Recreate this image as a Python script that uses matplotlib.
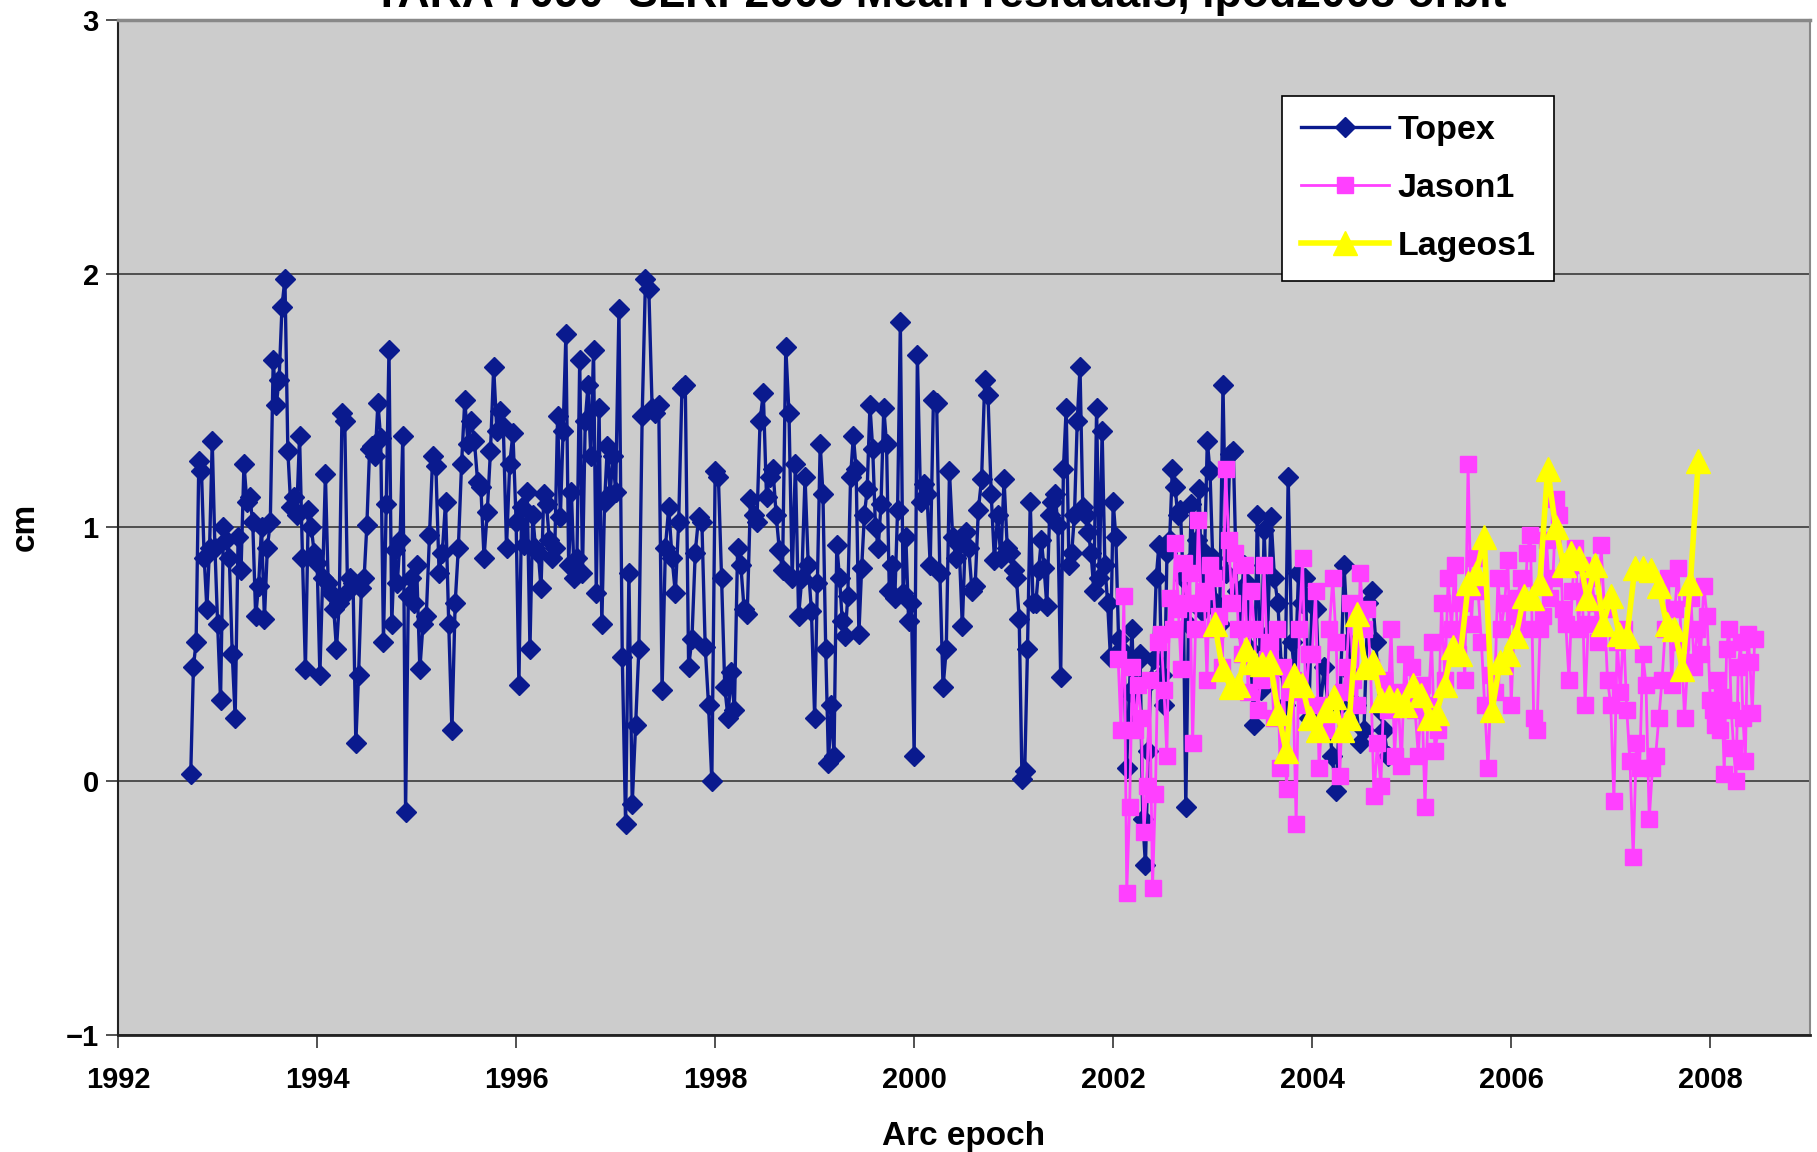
import numpy as np
import matplotlib
matplotlib.use('Agg')
from matplotlib import pyplot as plt

# mean residuals (cm)
topex_1992 = [0.03, 0.45, 0.55, 1.26, 1.22, 0.88, 0.68, 0.92, 1.34, 0.92]
topex_1993 = [0.62, 0.32, 1.0, 0.95, 0.88, 0.50, 0.25, 0.96, 0.83, 1.25, 1.10, 1.12,
              1.02, 0.65, 0.77, 1.0, 0.64, 0.92, 1.02, 1.66, 1.48, 1.58, 1.87, 1.98,
              1.30, 1.08, 1.12, 1.05, 1.36, 0.88, 0.44, 1.07, 1.0, 0.9]
topex_1994 = [0.86, 0.42, 0.80, 1.21, 0.78, 0.74, 0.68, 0.52, 0.70, 1.45, 1.42, 0.75,
              0.80, 0.78, 0.15, 0.42, 0.76, 0.80, 1.01, 1.31, 1.32, 1.28, 1.49, 1.35,
              0.55, 1.09, 1.70, 0.62, 0.91, 0.78, 0.95, 1.36, -0.12, 0.73, 0.80, 0.70]
topex_1995 = [0.85, 0.44, 0.62, 0.65, 0.97, 1.28, 1.24, 0.82, 0.90, 1.10, 0.62, 0.20,
              0.70, 0.92, 1.25, 1.50, 1.33, 1.42, 1.34, 1.18, 1.16, 0.88, 1.06, 1.30,
              1.63, 1.38, 1.46, 1.40, 0.92, 1.25, 1.37]
topex_1996 = [1.02, 0.38, 1.08, 0.93, 1.14, 0.52, 1.05, 0.92, 0.90, 0.76, 1.13, 1.09,
              0.95, 0.88, 0.92, 1.44, 1.04, 1.38, 1.76, 0.85, 1.14, 0.80, 0.88, 1.66,
              0.82, 1.42, 1.56, 1.28, 1.70, 0.74, 1.47, 0.62, 1.10, 1.32, 1.13, 1.28]
topex_1997 = [1.14, 1.86, 0.49, -0.17, 0.82, -0.09, 0.22, 0.52, 1.44, 1.98, 1.94, 1.47,
              1.45, 1.48, 0.36, 0.92, 1.08, 0.88, 0.74, 1.02, 1.55, 1.56, 0.45, 0.56,
              0.90, 1.04, 1.02, 0.53, 0.30, 0.00]
topex_1998 = [1.22, 1.20, 0.80, 0.37, 0.25, 0.43, 0.28, 0.92, 0.85, 0.68, 0.66, 1.11,
              1.05, 1.02, 1.42, 1.53, 1.12, 1.20, 1.23, 1.05, 0.91, 0.83, 1.71, 1.45,
              0.80, 1.25, 0.65, 0.80, 1.20, 0.85, 0.67]
topex_1999 = [0.25, 0.78, 1.33, 1.13, 0.52, 0.07, 0.30, 0.10, 0.93, 0.80, 0.63, 0.57,
              0.73, 1.20, 1.36, 1.23, 0.58, 0.84, 1.05, 1.15, 1.48, 1.31, 1.00, 0.92,
              1.09, 1.47, 1.33, 0.75, 0.85, 0.72, 1.07, 1.81, 0.74, 0.96, 0.63, 0.70]
topex_2000 = [0.10, 1.68, 1.10, 1.17, 1.13, 0.85, 1.50, 1.49, 0.82, 0.37, 0.52, 1.22,
              0.96, 0.88, 0.93, 0.61, 0.98, 0.92, 0.75, 0.77, 1.07, 1.19, 1.58, 1.52,
              1.13, 0.87, 1.05, 0.88, 1.19, 0.92, 0.90]
topex_2001 = [0.83, 0.80, 0.64, 0.01, 0.04, 0.52, 1.10, 0.70, 0.70, 0.83, 0.95, 0.84,
              0.69, 1.05, 1.10, 1.13, 1.01, 0.41, 1.23, 1.47, 0.85, 0.90, 1.05, 1.42,
              1.63, 1.08, 1.05, 0.98, 0.90, 0.75, 1.47, 0.80, 1.38, 0.85, 0.70, 0.49]
topex_2002 = [1.10, 0.96, 0.56, 0.52, 0.50, 0.05, 0.35, 0.60, 0.23, 0.47, 0.50, -0.15,
              -0.33, 0.12, 0.40, 0.48, 0.80, 0.93, 0.42, 0.30, 0.90, 0.95, 1.23, 1.16,
              1.05, 1.07, 0.80, -0.10, 0.62, 1.09, 0.88, 0.95, 1.15, 0.67, 0.90, 1.34, 1.22]
topex_2003 = [0.88, 0.70, 0.62, 1.56, 0.82, 1.29, 1.30, 0.75, 0.60, 0.85, 0.78, 0.52,
              0.22, 1.05, 0.36, 0.99, 0.58, 1.04, 0.80, 0.70, 0.45, 0.30, 1.20, 0.55,
              0.40, 0.82, 0.70, 0.80, 0.25]
topex_2004 = [0.74, 0.68, 0.28, 0.45, 0.30, 0.10, -0.04, 0.30, 0.85, 0.55, 0.42, 0.30,
              0.15, 0.20, 0.70, 0.75, 0.55, 0.28, 0.20, 0.10]

jason_2002 = [0.48, 0.20, 0.73, -0.44, -0.10, 0.45, 0.20, 0.38, 0.25, -0.20, -0.02, 0.40,
              -0.42, -0.05, 0.55, 0.58, 0.36, 0.10, 0.72, 0.60, 0.94, 0.68, 0.44, 0.86,
              0.70, 0.82, 0.15, 0.60, 1.03, 0.70, 0.75, 0.40, 0.85]
jason_2003 = [0.80, 0.60, 0.65, 0.45, 1.23, 0.95, 0.70, 0.90, 0.60, 0.50, 0.85, 0.35,
              0.75, 0.60, 0.28, 0.40, 0.85, 0.48, 0.55, 0.25, 0.60, 0.05, 0.45, -0.03,
              0.35, 0.40, -0.17, 0.60, 0.88, 0.30, 0.50]
jason_2004 = [0.50, 0.75, 0.05, 0.30, 0.20, 0.60, 0.80, 0.55, 0.02, 0.35, 0.45, 0.70,
              0.40, 0.30, 0.82, 0.60, 0.68, 0.45, -0.06, 0.15, -0.02, 0.40, 0.28, 0.60,
              0.10, 0.35, 0.06, 0.50, 0.30]
jason_2005 = [0.45, 0.28, 0.10, 0.38, -0.10, 0.30, 0.55, 0.12, 0.20, 0.70, 0.40, 0.80,
              0.60, 0.85, 0.50, 0.70, 0.40, 1.25, 0.62, 0.88, 0.75, 0.55, 0.30, 0.05,
              0.42, 0.35, 0.80, 0.60, 0.70, 0.87]
jason_2006 = [0.30, 0.65, 0.72, 0.80, 0.60, 0.90, 0.97, 0.25, 0.20, 0.60, 0.65, 0.95,
              0.72, 0.80, 1.11, 1.05, 0.68, 0.62, 0.40, 0.75, 0.92, 0.60, 0.85, 0.30,
              0.62, 0.80, 0.70, 0.55, 0.93, 0.68, 0.40]
jason_2007 = [0.30, -0.08, 0.55, 0.35, 0.60, 0.28, 0.08, -0.30, 0.15, 0.05, 0.50, 0.38,
              -0.15, 0.05, 0.10, 0.25, 0.40, 0.60, 0.80, 0.38, 0.68, 0.84, 0.55, 0.25,
              0.47, 0.72, 0.45, 0.60, 0.50, 0.77, 0.65]
jason_2008 = [0.32, 0.28, 0.22, 0.40, 0.20, 0.33, 0.03, 0.52, 0.60, 0.28, 0.13, 0.00,
              0.45, 0.55, 0.25, 0.08, 0.58, 0.47, 0.27, 0.56]

lageos = [0.62, 0.44, 0.37, 0.38, 0.52, 0.47, 0.46, 0.47, 0.27, 0.12, 0.42, 0.38,
          0.25, 0.20, 0.28, 0.33, 0.20, 0.25, 0.66, 0.45, 0.47, 0.32, 0.33, 0.32,
          0.30, 0.38, 0.34, 0.25, 0.27, 0.38, 0.53, 0.50, 0.78, 0.82, 0.96, 0.28,
          0.47, 0.50, 0.57, 0.73, 0.72, 0.78, 1.23, 1.00, 0.85, 0.90, 0.88, 0.72,
          0.85, 0.62, 0.73, 0.58, 0.57, 0.84, 0.84, 0.83, 0.77, 0.62, 0.60, 0.44,
          0.78, 1.26]

# time spans covered by each list (decimal years)
topex_spans = [(1992.73, 1993.0), (1993.0, 1994.0), (1994.0, 1995.0), (1995.0, 1996.0),
               (1996.0, 1997.0), (1997.0, 1998.0), (1998.0, 1999.0), (1999.0, 2000.0),
               (2000.0, 2001.0), (2001.0, 2002.0), (2002.0, 2003.0), (2003.0, 2004.0),
               (2004.0, 2004.8)]
jason_spans = [(2002.05, 2003.0), (2003.0, 2004.0), (2004.0, 2005.0), (2005.0, 2006.0),
               (2006.0, 2007.0), (2007.0, 2008.0), (2008.0, 2008.47)]
lageos_span = (2003.02, 2007.88)


def build(segments, spans):
    xs, ys = [], []
    for vals, (a, b) in zip(segments, spans):
        xs.extend(np.linspace(a, b, len(vals), endpoint=False))
        ys.extend(vals)
    return np.array(xs), np.array(ys)


topex_x, topex_y = build([topex_1992, topex_1993, topex_1994, topex_1995, topex_1996,
                          topex_1997, topex_1998, topex_1999, topex_2000, topex_2001,
                          topex_2002, topex_2003, topex_2004], topex_spans)
jason_x, jason_y = build([jason_2002, jason_2003, jason_2004, jason_2005, jason_2006,
                          jason_2007, jason_2008], jason_spans)
lageos_x = np.linspace(lageos_span[0], lageos_span[1], len(lageos))

plt.rcParams['font.family'] = ['Liberation Sans', 'DejaVu Sans']
plt.rcParams['font.weight'] = 'bold'

fig = plt.figure(figsize=(18.17, 11.52), dpi=100)
ax = fig.add_axes([0.065, 0.1016, 0.931, 0.8813])
ax.set_facecolor('#CCCCCC')

ax.plot(topex_x, topex_y, color='#0A1A8E', lw=2.4, marker='D', ms=10,
        mec='#0A1A8E', mfc='#0A1A8E', label='Topex', zorder=3)
ax.plot(jason_x, jason_y, color='#FF40FF', lw=2.0, marker='s', ms=11,
        mec='#FF40FF', mfc='#FF40FF', label='Jason1', zorder=4)
ax.plot(lageos_x, lageos, color='#FFFF00', lw=4.0, marker='^', ms=17,
        mec='#FFFF00', mfc='#FFFF00', label='Lageos1', zorder=5)

ax.set_xlim(1992, 2009)
ax.set_ylim(-1, 3)
ax.set_xticks(range(1992, 2009, 2))
ax.set_yticks([-1, 0, 1, 2, 3])
ax.tick_params(axis='both', labelsize=21, direction='out', length=9, width=1.2,
               color='#333333')
ax.tick_params(axis='x', pad=13)
ax.tick_params(axis='y', pad=5)
for lbl in ax.get_xticklabels() + ax.get_yticklabels():
    lbl.set_fontweight('bold')
ax.grid(axis='y', color='#444444', lw=1.3)
ax.set_axisbelow(True)

ax.spines['top'].set_color('#888888')
ax.spines['top'].set_linewidth(2.5)
ax.spines['right'].set_color('#888888')
ax.spines['right'].set_linewidth(1.5)
ax.spines['left'].set_color('#222222')
ax.spines['left'].set_linewidth(1.5)
ax.spines['bottom'].set_color('#222222')
ax.spines['bottom'].set_linewidth(2.0)

ax.set_xlabel('Arc epoch', fontsize=24, fontweight='bold', labelpad=20)
ax.set_ylabel('cm', fontsize=24, fontweight='bold', va='center')
ax.yaxis.set_label_coords(-0.055, 0.5)

fig.text(0.517, 0.994, 'YARA 7090  SLRF2005 Mean residuals, ipod2008 orbit',
         ha='center', va='baseline', fontsize=32, fontweight='bold')

leg = ax.legend(loc='upper left', bbox_to_anchor=(0.688, 0.925), fontsize=24.5,
                frameon=True, fancybox=False, shadow=False, handlelength=2.6,
                labelspacing=0.8, borderpad=0.55, handletextpad=0.25,
                borderaxespad=0)
leg.get_frame().set_edgecolor('black')
leg.get_frame().set_linewidth(1.2)
leg.get_frame().set_facecolor('white')
leg.get_frame().set_alpha(1)
for t in leg.get_texts():
    t.set_fontweight('bold')

fig.savefig('out.png', dpi=100)
